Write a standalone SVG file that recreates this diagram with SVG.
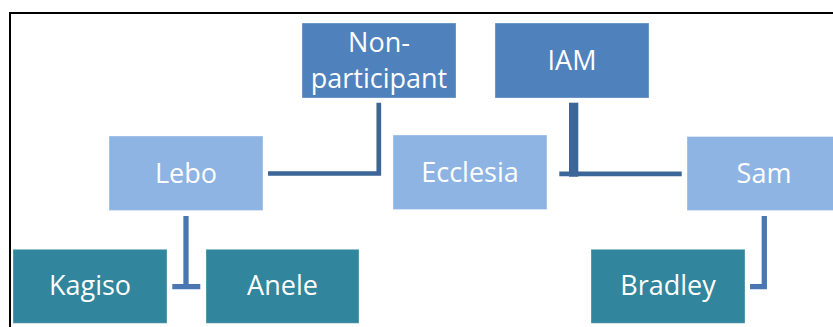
<svg xmlns="http://www.w3.org/2000/svg" width="833" height="327" viewBox="0 0 833 327">
<style>
.box{stroke:#ffffff;stroke-opacity:0.35;stroke-width:1}
.dark{fill:#4F81BD}
.light{fill:#8EB4E3}
.teal{fill:#31859C}
.lbl{font-family:"Open Sans","Noto Sans",sans-serif;font-size:27px;fill:#ffffff;text-anchor:middle}
.c1{fill:none;stroke:#3C6697;stroke-width:4.7}
.c2{fill:none;stroke:#4A77B2;stroke-width:5.3}
</style>
<rect x="0" y="0" width="833" height="327" fill="#ffffff"/>
<rect x="10" y="13" width="840" height="330" fill="none" stroke="#000000" stroke-width="2"/>
<g id="connectors">
<path class="c1" d="M268,173.5 H378.8 V102.7"/>
<path class="c1" d="M559.3,173.8 H681.7"/>
<rect x="569" y="102.7" width="9.3" height="74" fill="#3C6697"/>
<path class="c2" d="M186,216 V289.3 M172.3,286.7 H200.3"/>
<path class="c2" d="M764.3,216 V286.7 H750"/>
</g>
<g id="non-participant">
<rect class="box dark" x="302" y="23" width="154" height="75"/>
<text class="lbl" x="379" y="52">Non-</text>
<text class="lbl" x="379" y="87.5">participant</text>
</g>
<g id="iam">
<rect class="box dark" x="495" y="23" width="154" height="75"/>
<text class="lbl" x="572" y="70">IAM</text>
</g>
<g id="lebo">
<rect class="box light" x="109" y="136" width="154" height="74.5"/>
<text class="lbl" x="186" y="182.5">Lebo</text>
</g>
<g id="ecclesia">
<rect class="box light" x="393" y="135" width="154" height="74.5"/>
<text class="lbl" x="470" y="181.5">Ecclesia</text>
</g>
<g id="sam">
<rect class="box light" x="687" y="136.5" width="154" height="74"/>
<text class="lbl" x="764" y="183">Sam</text>
</g>
<g id="kagiso">
<rect class="box teal" x="13" y="249.3" width="154" height="74"/>
<text class="lbl" x="90" y="295">Kagiso</text>
</g>
<g id="anele">
<rect class="box teal" x="206" y="249.3" width="153" height="74"/>
<text class="lbl" x="282.5" y="295">Anele</text>
</g>
<g id="bradley">
<rect class="box teal" x="591" y="249.3" width="154" height="74"/>
<text class="lbl" x="668" y="295">Bradley</text>
</g>
</svg>
